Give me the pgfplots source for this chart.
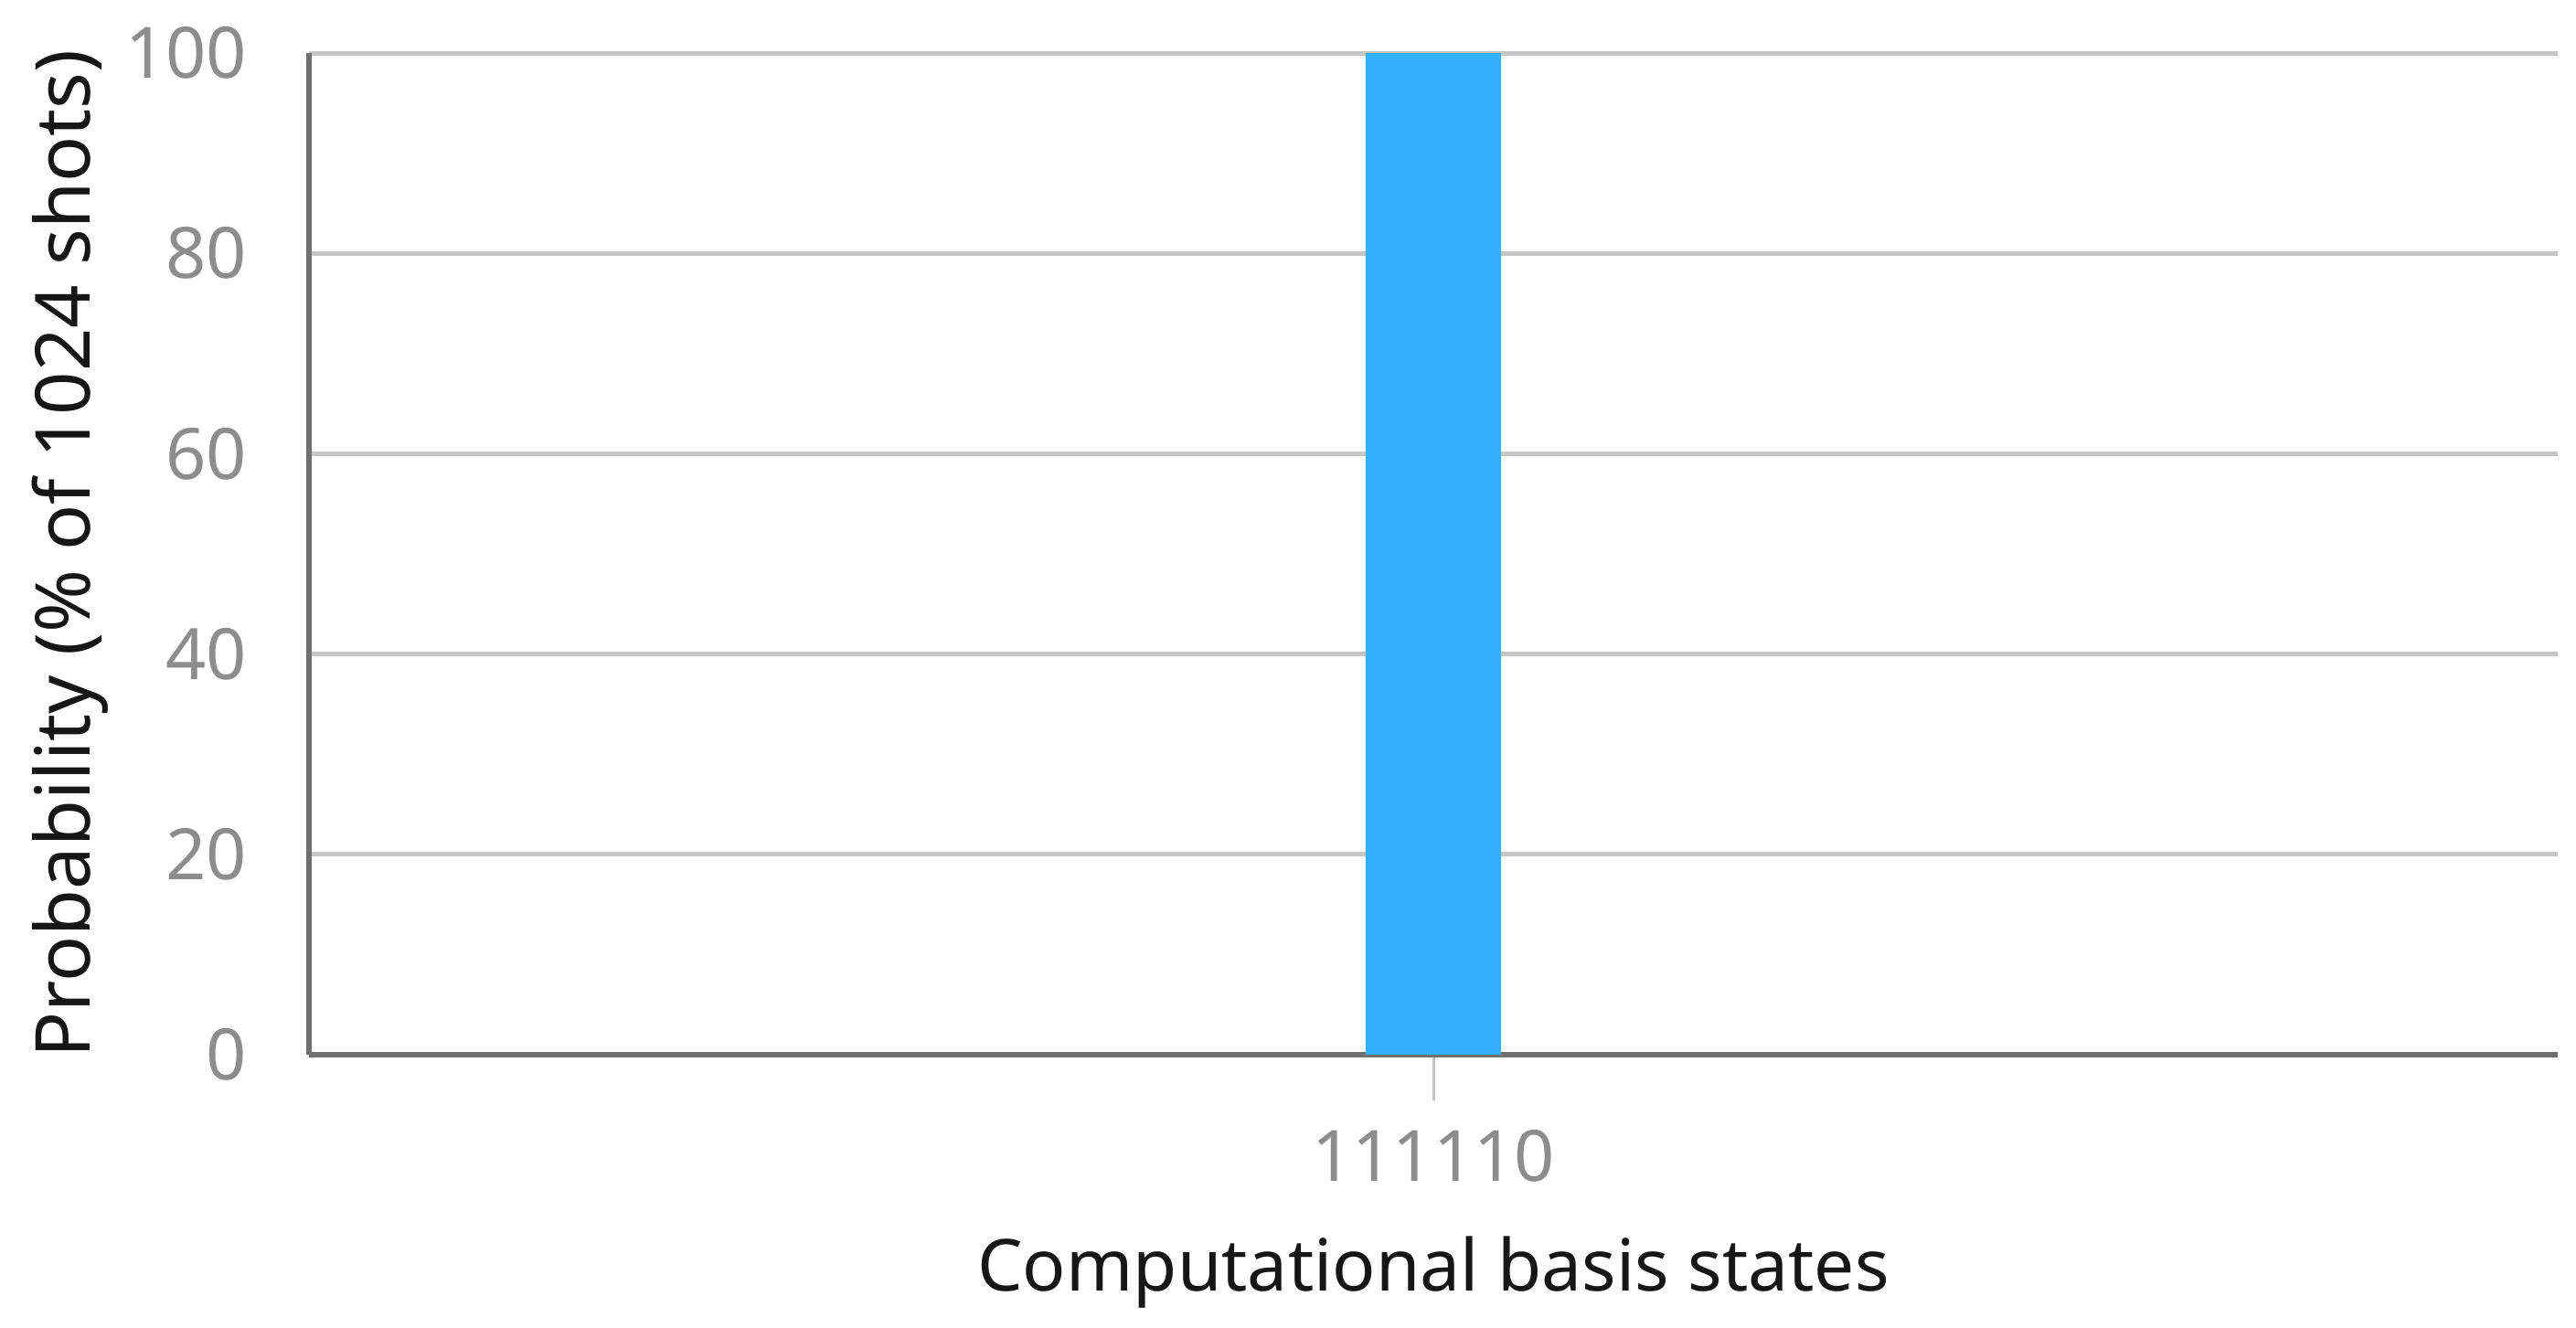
\documentclass[border=0pt]{standalone}
\usepackage{fontspec}
\setmainfont{Noto Sans}
\usepackage{pgfplots}
\pgfplotsset{compat=1.18}
\definecolor{barcyan}{HTML}{33B1FF}
\definecolor{gridgray}{HTML}{C6C6C6}
\definecolor{axisgray}{HTML}{6F6F6F}
\definecolor{ticktext}{HTML}{8D8D8D}
\definecolor{labeltext}{HTML}{161616}

\begin{document}
\begin{tikzpicture}
  % page frame (0.2pt per reference pixel)
  \path[use as bounding box] (-67.6pt,-59.6pt) rectangle (496pt,230.8pt);
  \begin{axis}[
    at={(0,0)}, anchor=south west,
    scale only axis,
    width=492pt, height=219.2pt,
    ybar, bar width=29.6pt,
    xmin=-1, xmax=1,
    ymin=0, ymax=100,
    xtick={0}, xticklabels={111110},
    ytick={0,20,40,60,80,100},
    axis x line=bottom, axis y line=left,
    axis line style={draw=axisgray, line width=1.1pt, -},
    ymajorgrids,
    grid style={draw=gridgray, line width=1pt},
    tick align=outside,
    xtick style={draw=gridgray, line width=0.6pt},
    major tick length=10pt,
    ytick style={draw=none},
    /pgf/number format/assume math mode=true,
    tick label style={font=\fontsize{15.5}{18}\selectfont, text=ticktext},
    yticklabel style={xshift=0pt},
    xticklabel style={yshift=-3pt},
    xlabel={Computational basis states},
    ylabel={Probability (\% of 1024 shots)},
    xlabel style={font=\fontsize{15.7}{19}\selectfont, text=labeltext, yshift=-5pt},
    every axis y label/.style={at={([xshift=-52.2pt]rel axis cs:0,0.5)},
      anchor=center, rotate=90,
      font=\fontsize{16.6}{20}\selectfont, text=labeltext},
  ]
    \addplot[fill=barcyan, draw=none] coordinates {(0,100)};
  \end{axis}
\end{tikzpicture}
\end{document}
